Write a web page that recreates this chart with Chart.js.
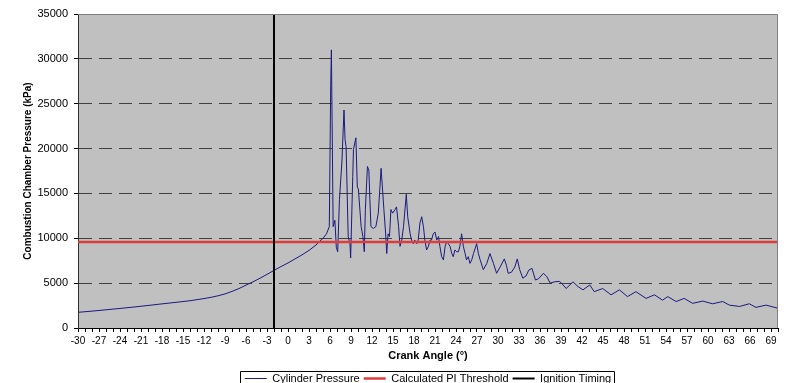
<!DOCTYPE html>
<html>
<head>
<meta charset="utf-8">
<script src="https://cdn.jsdelivr.net/npm/chart.js@4.4.1/dist/chart.umd.min.js"></script>
<style>
html,body{margin:0;padding:0;background:#fff;}
#wrap{width:788px;height:383px;}
</style>
</head>
<body>
<div id="wrap"><canvas id="c" width="788" height="383"></canvas></div>
<script>
// ---- data ----
const crankAngles = [
-30,-28,-26,-24,-22,-20,-18,-16,-14,-12,-11,-10,-9,-8,-7,-6,-5,-4,-3,-2,-1,0,1,2,3,4,4.5,5,5.5,5.9,
6.1,6.2,6.3,6.45,6.7,6.9,7.1,7.35,7.7,8.0,8.15,8.3,8.6,8.85,8.95,9.25,9.35,9.7,9.9,10.05,10.45,10.7,10.9,
11.05,11.35,11.55,11.7,11.85,12.2,12.55,12.9,13.3,13.5,13.7,13.95,14.1,14.3,14.5,14.7,14.95,15.3,15.5,15.8,
16.0,16.25,16.5,16.9,17.1,17.45,17.65,17.9,18.1,18.4,18.6,18.85,19.1,19.35,19.55,19.8,20.05,20.3,20.5,20.75,
21.0,21.25,21.5,21.7,21.95,22.2,22.45,22.65,22.9,23.15,23.4,23.6,23.85,24.1,24.35,24.55,24.8,25.05,25.3,25.5,
25.75,26.0,26.25,26.5,26.95,27.2,27.45,27.9,28.4,28.85,29.35,29.8,30.3,30.9,31.2,31.45,31.9,32.4,32.75,33.1,
33.55,34.0,34.4,34.85,35.35,35.8,36.5,37.0,37.45,38.1,38.8,39.3,39.75,40.7,41.45,42.15,43.1,43.75,44.95,46.15,
47.35,48.5,49.7,51.15,52.35,53.5,54.25,55.45,56.6,57.8,59.25,60.65,62.1,63.05,64.5,65.9,66.85,68.3,70.0
];
const cylinderPressure = [
1750,1880,2030,2180,2340,2510,2690,2860,3040,3280,3420,3590,3800,4080,4400,4780,5150,5550,5980,6420,6850,7250,7700,8150,8650,9250,9650,10000,10500,11300,
27000,31000,23000,11300,12000,9000,8500,14300,18500,24300,21000,20200,10200,9400,7800,16900,19900,21200,15700,15500,11300,10200,8500,
13200,18000,17600,14300,11300,11100,11300,12800,17800,15500,13200,10500,8300,10500,10200,13200,12800,13200,13500,11300,
9100,9800,11300,14900,12400,10500,9800,9400,9800,9400,9800,11700,12400,11300,9800,8700,9100,9800,9800,10500,
10700,9800,10200,9100,7950,7600,9100,9600,9400,9100,8300,7950,8700,8500,8500,9100,10500,9100,8300,7600,
7950,7200,7600,8300,9400,8300,7600,6500,7200,8300,7200,6100,6800,7700,7000,6100,6200,6800,7700,6500,
5550,5800,6450,6650,5350,5500,6100,5700,5000,5150,5200,4800,4400,5150,4600,4250,4800,4050,4400,3700,
4250,3500,4050,3300,3700,3100,3500,2950,3300,2750,3000,2700,2950,2550,2400,2700,2300,2550,2200
];
const piThreshold = 9580;
const ignitionAngle = -2;
const xRange = [-30, 70];
const yRange = [0, 35000];
const yStep = 5000;
const xLabelStep = 3;
const seriesNames = ['Cylinder Pressure', 'Calculated PI Threshold', 'Ignition Timing'];
const axisTitles = {x: 'Crank Angle (°)', y: 'Combustion Chamber Pressure (kPa)'};

const pressurePoints = crankAngles.map((a, i) => ({x: a, y: cylinderPressure[i]}));
const thresholdPoints = [{x: xRange[0], y: piThreshold}, {x: xRange[1], y: piThreshold}];
const ignitionPoints = [{x: ignitionAngle, y: yRange[0]}, {x: ignitionAngle, y: yRange[1]}];

const FONT = "'Liberation Sans', Arial, sans-serif";

const plotBg = {
  id: 'plotBg',
  beforeDraw(chart) {
    const {ctx, chartArea: a} = chart;
    ctx.save();
    ctx.fillStyle = '#C0C0C0';
    ctx.fillRect(a.left, a.top, a.right - a.left, a.bottom - a.top);
    ctx.restore();
  },
  afterDatasetsDraw(chart) {
    const {ctx, chartArea: a} = chart;
    ctx.save();
    ctx.strokeStyle = '#808080';
    ctx.lineWidth = 1;
    ctx.beginPath();
    ctx.moveTo(a.left, a.top + 0.5);
    ctx.lineTo(a.right - 0.5, a.top + 0.5);
    ctx.lineTo(a.right - 0.5, a.bottom);
    ctx.stroke();
    ctx.restore();
  },
  afterDraw(chart) {
    const lg = chart.legend;
    if (!lg || !lg.legendHitBoxes || !lg.legendHitBoxes.length) return;
    const hb = lg.legendHitBoxes;
    const l = hb[0].left - 5, r = hb[hb.length - 1].left + hb[hb.length - 1].width + 3;
    const t = hb[0].top - 2;
    const {ctx} = chart;
    ctx.save();
    ctx.strokeStyle = '#000';
    ctx.lineWidth = 1;
    ctx.beginPath();
    ctx.moveTo(Math.round(l) + 0.5, 390);
    ctx.lineTo(Math.round(l) + 0.5, Math.round(t) + 0.5);
    ctx.lineTo(Math.round(r) + 0.5, Math.round(t) + 0.5);
    ctx.lineTo(Math.round(r) + 0.5, 390);
    ctx.stroke();
    ctx.restore();
  }
};

new Chart(document.getElementById('c'), {
  type: 'line',
  data: {
    datasets: [
      {label: seriesNames[0], data: pressurePoints, borderColor: '#1a1a80', borderWidth: 1, pointRadius: 0, tension: 0, order: 3},
      {label: seriesNames[1], data: thresholdPoints, borderColor: '#e03c3c', borderWidth: 2.5, pointRadius: 0, order: 2},
      {label: seriesNames[2], data: ignitionPoints, borderColor: '#000000', borderWidth: 2, pointRadius: 0, order: 1}
    ]
  },
  options: {
    responsive: false,
    animation: false,
    layout: {padding: {left: 0, right: 10, top: 14, bottom: -11}},
    plugins: {
      tooltip: {enabled: false},
      legend: {
        position: 'bottom',
        fullSize: false,
        labels: {
          usePointStyle: true,
          pointStyle: 'line',
          pointStyleWidth: 22,
          padding: 4,
          color: '#000',
          font: {family: FONT, size: 11},
          sort: (a, b) => a.datasetIndex - b.datasetIndex
        }
      }
    },
    scales: {
      x: {
        type: 'linear',
        min: xRange[0],
        max: xRange[1],
        afterFit: s => { s.height = 41; },
        ticks: {
          stepSize: 1,
          autoSkip: false,
          maxRotation: 0,
          minRotation: 0,
          includeBounds: false,
          padding: 3,
          color: '#000',
          font: {family: FONT, size: 10},
          callback: v => ((v - xRange[0]) % xLabelStep === 0 && v < xRange[1]) ? String(v) : ''
        },
        grid: {display: true, drawOnChartArea: false, drawTicks: true, tickLength: 4, tickColor: '#000'},
        border: {display: true, color: '#000', width: 1},
        title: {display: true, text: axisTitles.x, color: '#000', font: {family: FONT, size: 11, weight: 'bold'}, padding: {top: 2, bottom: 6}}
      },
      y: {
        min: yRange[0],
        max: yRange[1],
        afterFit: s => { s.width = 78; },
        ticks: {stepSize: yStep, padding: 6, color: '#000', font: {family: FONT, size: 11}, callback: v => String(v)},
        grid: {
          display: true,
          drawOnChartArea: true,
          drawTicks: true,
          tickLength: 4,
          tickColor: '#000',
          tickBorderDash: [],
          color: c => (c.tick && (c.tick.value === yRange[0] || c.tick.value === yRange[1])) ? 'rgba(0,0,0,0)' : '#404040',
          lineWidth: 1
        },
        border: {display: true, color: '#303030', width: 1, dash: [13, 7]},
        title: {display: true, text: axisTitles.y, color: '#000', font: {family: "'Liberation Sans Narrow', 'Arial Narrow', " + FONT, size: 10, weight: 'bold'}, padding: {top: 22, bottom: 0}}
      }
    }
  },
  plugins: [plotBg]
});
</script>
</body>
</html>
